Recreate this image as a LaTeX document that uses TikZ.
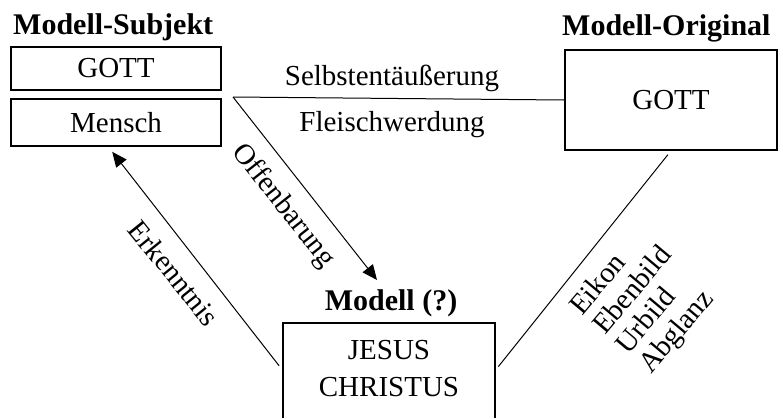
\documentclass[tikz,border=0pt]{standalone}
\usepackage{fontspec}
\setmainfont{Liberation Serif}
\usetikzlibrary{arrows.meta,calc}
\begin{document}
\begin{tikzpicture}[x=1pt,y=-1pt,
  txt/.style={font=\fontsize{29}{30}\selectfont, inner sep=0pt},
  head/.style={font=\fontsize{30}{32}\selectfont\bfseries, inner sep=0pt},
  box/.style={draw, line width=1.6pt, txt},
  conn/.style={line width=1pt},
  arr/.style={conn, -{Triangle[length=15pt,width=13pt]}}]
\useasboundingbox (0,0) rectangle (783,418);

% Modell-Subjekt column
\node[head, anchor=base west] (subj) at (13,34) {Modell-Subjekt};
\node[box, minimum width=210pt, minimum height=43pt] (lgott) at (116,68.5) {GOTT};
\node[box, minimum width=210pt, minimum height=47pt] (mensch) at (116,122.5) {Mensch};

% Modell-Original
\node[head, anchor=base west] (orig) at (562,35) {Modell-Original};
\node[box, minimum width=212pt, minimum height=100pt] (rgott) at (671,100) {GOTT};

% Modell (?) with its open-bottom box
\node[head, anchor=base] (modell) at (391,310) {Modell (?)};
\node[minimum width=212pt, minimum height=95pt, inner sep=0pt] (jc) at (389,370.5) {};
\draw[line width=1.6pt] (jc.south west) -- (jc.north west) -- (jc.north east) -- (jc.south east);
\node[txt, align=center, font=\fontsize{29}{37}\selectfont] (jctext) at (389,369) {JESUS\\CHRISTUS};

% connectors
\coordinate (top) at (233,97);
\coordinate (tipO) at (377,280);
\coordinate (tipE) at ($(mensch.south west)+(102,5)$);
\draw[conn] (top) -- (rgott.west);
\draw[arr] (top) -- (tipO);
\draw[arr, shorten <=6pt] (jc.west) -- (tipE);
\draw[conn, shorten <=5pt, shorten >=5pt] (rgott.south) -- (jc.east);

% connector labels
\node[txt, anchor=base] (selbst) at (392,85) {Selbstentäußerung};
\node[txt, anchor=base] (fleisch) at (392,131) {Fleischwerdung};
\node[txt, rotate=-51.8] (offen) at (283,206) {Offenbarung};
\node[txt, rotate=-51] (erk) at (174,273) {Erkenntnis};
\node[txt, rotate=50, align=left] (names) at (645,301) {Eikon\\Ebenbild\\Urbild\\Abglanz};
\end{tikzpicture}
\end{document}
